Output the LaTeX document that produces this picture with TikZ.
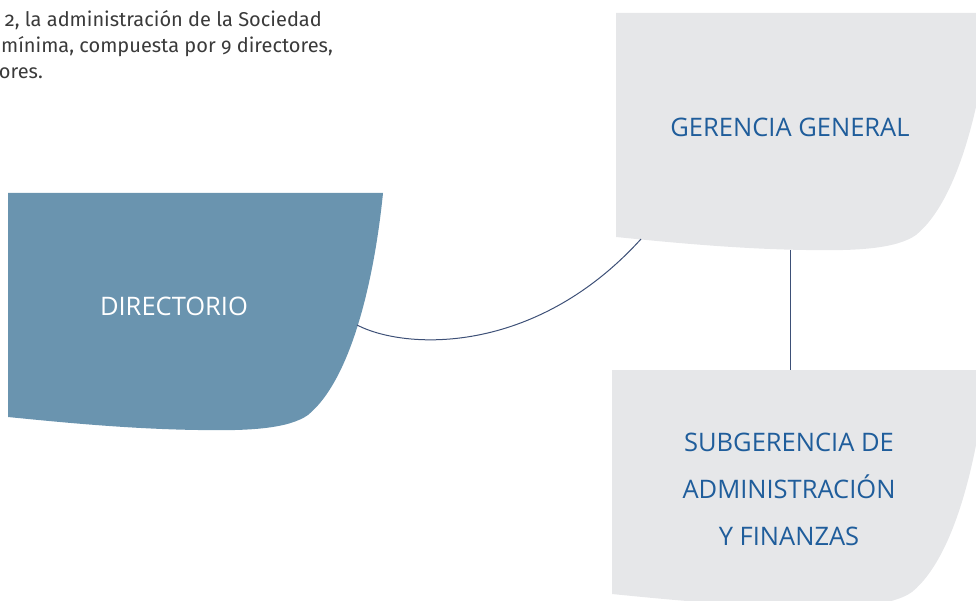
\documentclass[tikz,border=0pt]{standalone}
\usepackage{fontspec}
\setmainfont{Open Sans}
\newfontfamily\bodyfont[Numbers=OldStyle]{Fira Sans}
\definecolor{dirblue}{HTML}{6A94AF}
\definecolor{boxgray}{HTML}{E6E7E9}
\definecolor{txtblue}{HTML}{1F5D9B}
\definecolor{linenavy}{HTML}{3D5077}
\definecolor{bodygray}{HTML}{3A3A3A}
\newcommand{\blobshape}{(0,0) -- (375,0) .. controls (367,80) and (345,185) .. (300,222)
  .. controls (280,236) and (240,238) .. (190,237)
  .. controls (120,236) and (50,229) .. (0,224) -- cycle}
\begin{document}
\begin{tikzpicture}[x=1pt,y=-1pt,
  dirshape/.style={fill=dirblue,draw=none},
  grayshape/.style={fill=boxgray,draw=none},
  whitelabel/.style={text=white,font=\fontsize{25.5}{30}\selectfont,inner sep=0pt},
  bluelabel/.style={text=txtblue,font=\fontsize{25.5}{47}\selectfont,align=center,inner sep=0pt},
  bodytext/.style={text=bodygray,font=\bodyfont\fontsize{20}{26}\selectfont,anchor=base east,inner sep=0pt},
  conn/.style={draw=linenavy,line width=1pt}]
\useasboundingbox (0,0) rectangle (976,601);
\clip (0,0) rectangle (976,601);
% body text (cut at the left edge)
\node[bodytext] (t1) at (322,27) {2, la administración de la Sociedad};
\node[bodytext] (t2) at (333,53) {mínima, compuesta por 9 directores,};
\node[bodytext] (t3) at (43,79) {ores.};
% shapes
\begin{scope}[shift={(8,193)}]
  \fill[dirshape] \blobshape;
  \coordinate (dirR) at (349,132);
\end{scope}
\begin{scope}[shift={(616,13)}]
  \fill[grayshape] \blobshape;
  \coordinate (ggBL) at (25,226);
  \coordinate (ggB) at (174,237);
\end{scope}
\begin{scope}[shift={(612,370)}]
  \fill[grayshape] \blobshape;
  \coordinate (subT) at (178,0);
\end{scope}
% labels
\node[whitelabel] (dir) at (174,306) {DIRECTORIO};
\node[bluelabel] (gg) at (790,127) {GERENCIA GENERAL};
\node[bluelabel] (sub) at (789,489) {SUBGERENCIA DE\\ADMINISTRACIÓN\\Y FINANZAS};
% connectors
\draw[conn] (dirR) .. controls (405,350) and (535,356) .. (ggBL);
\draw[conn] (ggB) -- (subT);
\end{tikzpicture}
\end{document}
